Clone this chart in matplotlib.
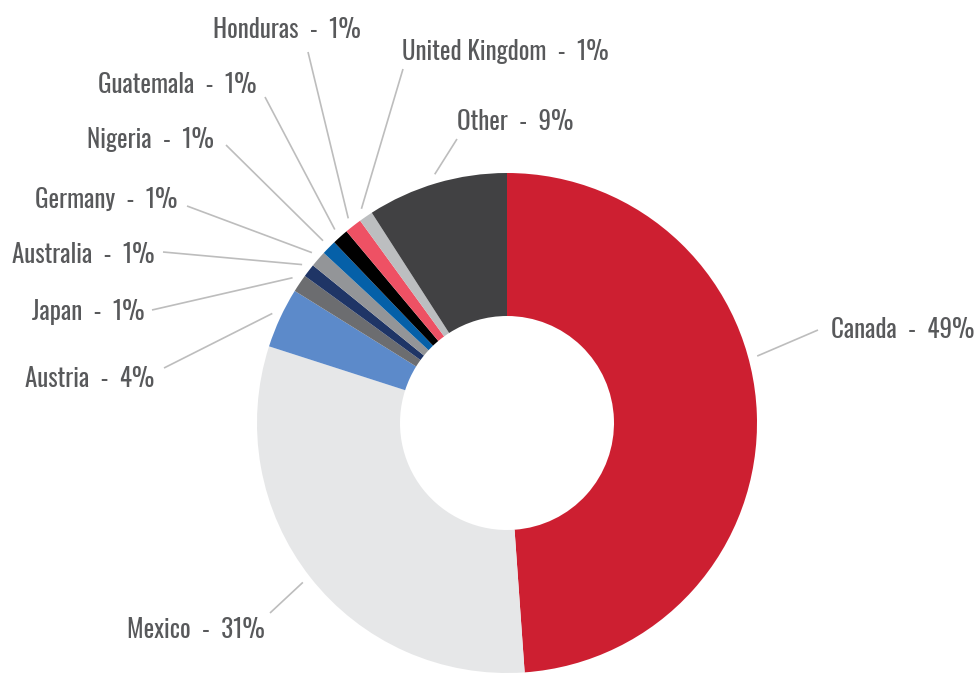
import numpy as np
import matplotlib.pyplot as plt

# data (share in percent)
countries = ['Canada', 'Mexico', 'Austria', 'Japan', 'Australia', 'Germany',
             'Nigeria', 'Guatemala', 'Honduras', 'United Kingdom', 'Other']
shares = [48.9, 31.1, 3.9, 1.15, 0.85, 1.05, 0.95, 1.05, 1.1, 0.9, 9.1]
labels = ['49%', '31%', '4%', '1%', '1%', '1%', '1%', '1%', '1%', '1%', '9%']
colors = ['#CD1F31', '#E6E7E8', '#5C8ACA', '#6C6D70', '#1F3566', '#939598',
          '#0560A8', '#000000', '#EE5164', '#BCBEC0', '#414143']

W, H = 980, 673
cx, cy, R, r_in = 507, H - 423, 250, 107

# label layout: (line outer end x, y) and (text x, baseline y, ha), in pixels from top-left
line_ends = [(818, 330), (270, 613), (164, 368), (152, 310), (163, 252), (187, 206),
             (226, 145), (265, 97), (308, 52), (403, 69), (457, 139)]
text_pos = [(831, 338, 'left'), (265, 638, 'right'), (154, 387, 'right'),
            (144, 320, 'right'), (154, 263, 'right'), (177, 208, 'right'),
            (214, 148, 'right'), (256, 93, 'right'), (287, 38, 'center'),
            (402, 60, 'left'), (457, 130, 'left')]
angle_shift = {0: -13.0}  # Canada's leader sits higher than the mid angle

plt.rcParams['font.family'] = ['Oswald', 'Roboto Condensed', 'DejaVu Sans']

fig = plt.figure(figsize=(W / 100, H / 100), dpi=100)
ax = fig.add_axes([0, 0, 1, 1])

wedges, _ = ax.pie(shares, colors=colors, startangle=90, counterclock=False,
                   center=(cx, cy), radius=R, frame=True,
                   wedgeprops=dict(width=R - r_in, edgecolor='none'))
ax.set_xlim(0, W)
ax.set_ylim(0, H)
ax.set_aspect('equal')
ax.axis('off')

cum = np.cumsum([0] + shares[:-1])
for i, (name, lab) in enumerate(zip(countries, labels)):
    mid = (cum[i] + shares[i] / 2) / 100 * 360 + angle_shift.get(i, 0)
    th = np.deg2rad(mid)
    x0 = cx + (R + 9) * np.sin(th)
    y0 = cy + (R + 9) * np.cos(th)
    x1, y1 = line_ends[i]
    ax.plot([x0, x1], [y0, H - y1], color='#BDBDBD', lw=1.2, solid_capstyle='butt')
    tx, ty, ha = text_pos[i]
    ax.text(tx, H - ty, f'{name}  -  {lab}', ha=ha, va='baseline',
            fontsize=18, fontweight='light', color='#58595B')

fig.savefig('out.png', dpi=100)
